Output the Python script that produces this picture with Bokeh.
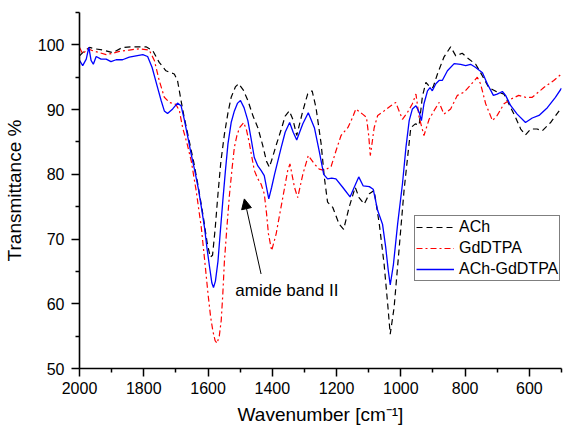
from bokeh.plotting import figure
from bokeh.models import Range1d, FixedTicker, Arrow, NormalHead, Label, Legend, LegendItem
from bokeh.embed import file_html
from bokeh.resources import INLINE

# ---- data ----
ach_x = [2000, 1984, 1969, 1953, 1928, 1897, 1866, 1835, 1793, 1772, 1752, 1731, 1705, 1695, 1684,
         1675, 1660, 1645, 1630, 1615, 1603, 1593, 1586, 1578, 1569, 1560, 1549, 1538, 1528, 1515,
         1505, 1490, 1476, 1460, 1445, 1430, 1418, 1409, 1400, 1388, 1373, 1360, 1347, 1336, 1324,
         1315, 1305, 1290, 1276, 1264, 1248, 1238, 1228, 1212, 1192, 1178, 1161, 1142, 1130, 1114,
         1098, 1083, 1067, 1052, 1041, 1033, 1021, 1005, 990, 979, 969, 955, 943, 933, 922, 910,
         900, 886, 866, 845, 829, 809, 793, 767, 746, 726, 700, 679, 664, 643, 627, 612, 596, 576,
         560, 534, 500]
ach_y = [98.3, 99.1, 99.6, 99.4, 99.2, 98.8, 99.6, 99.7, 99.7, 99.1, 97.3, 96.0, 95.5, 94.5, 91.4,
         89.0, 85.5, 82.0, 78.0, 73.5, 69.5, 67.2, 67.5, 71.5, 77.0, 82.0, 86.2, 89.5, 91.9, 93.5,
         94.0, 93.0, 91.4, 89.0, 87.2, 84.5, 82.0, 81.1, 82.5, 84.5, 86.8, 89.0, 89.8, 88.5, 86.0,
         87.8, 89.8, 92.4, 92.9, 90.3, 84.7, 79.5, 75.7, 74.9, 72.3, 71.5, 74.9, 78.0, 76.4, 75.4,
         77.0, 77.5, 72.3, 66.1, 60.0, 55.3, 59.4, 68.7, 77.5, 82.6, 87.2, 87.8, 87.6, 92.0, 94.2, 93.5,
         93.4, 95.5, 98.1, 99.7, 98.3, 98.7, 98.0, 97.0, 95.2, 93.4, 92.7, 92.4, 90.9, 88.8, 87.0, 86.1, 87.0, 87.0,
         86.7, 88.0, 90.3]

gd_x = [2000, 1990, 1974, 1959, 1938, 1917, 1897, 1876, 1845, 1814, 1783, 1767, 1752, 1736, 1720,
        1700, 1689, 1679, 1664, 1652, 1637, 1621, 1610, 1600, 1592, 1585, 1578, 1572, 1565, 1559,
        1554, 1549, 1541, 1533, 1525, 1518, 1510, 1502, 1489, 1480, 1471, 1463, 1456, 1445, 1435,
        1425, 1418, 1412, 1402, 1395, 1388, 1380, 1367, 1352, 1345, 1331, 1321, 1305, 1288, 1269,
        1254, 1238, 1217, 1202, 1186, 1165, 1150, 1140, 1119, 1107, 1100, 1095, 1089, 1083, 1072,
        1052, 1031, 1016, 995, 979, 964, 953, 943, 928, 912, 897, 881, 866, 845, 824, 803, 783,
        762, 752, 736, 715, 700, 679, 658, 633, 612, 591, 555, 524, 500]
gd_y = [99.6, 98.6, 99.4, 99.1, 98.8, 98.5, 98.7, 99.0, 99.2, 99.4, 99.2, 97.6, 94.5, 91.9, 91.1,
        90.8, 89.8, 87.2, 84.5, 82.0, 77.5, 71.8, 66.5, 61.5, 58.0, 55.8, 54.3, 53.9, 55.0, 57.4,
        61.5, 66.6, 72.0, 77.0, 81.0, 84.2, 86.0, 87.2, 88.0, 86.8, 84.7, 82.5, 80.6, 79.3, 78.5,
        77.0, 74.0, 70.8, 68.2, 69.5, 70.8, 73.0, 76.5, 80.6, 81.6, 78.0, 76.4, 80.0, 82.9, 81.6,
        80.8, 80.6, 81.2, 83.6, 86.0, 87.2, 88.8, 90.1, 89.3, 88.8, 86.0, 82.9, 85.0, 87.2, 89.1,
        89.8, 90.6, 91.1, 88.5, 89.6, 90.9, 92.4, 88.8, 86.0, 88.5, 89.8, 91.1, 89.3, 90.1, 92.2, 92.7, 93.8,
        95.0, 94.0, 90.9, 88.3, 89.1, 90.9, 91.6, 92.2, 91.9, 91.9, 93.4, 94.5, 95.5]

mix_x = [2000, 1990, 1979, 1971, 1964, 1957, 1948, 1933, 1917, 1902, 1886, 1866, 1845, 1824, 1803,
         1788, 1774, 1757, 1746, 1736, 1726, 1710, 1695, 1684, 1674, 1664, 1652, 1641, 1631, 1621,
         1611, 1603, 1595, 1588, 1583, 1577, 1569, 1562, 1554, 1546, 1538, 1528, 1518, 1508, 1499,
         1488, 1476, 1466, 1456, 1445, 1435, 1425, 1418, 1411, 1402, 1393, 1383, 1373, 1360, 1346,
         1335, 1324, 1315, 1305, 1288, 1269, 1254, 1240, 1228, 1215, 1202, 1181, 1158, 1145, 1131,
         1117, 1098, 1086, 1072, 1057, 1047, 1039, 1033, 1023, 1010, 995, 984, 974, 964, 953, 943,
         936, 928, 917, 909, 902, 891, 881, 871, 855, 834, 814, 798, 783, 767, 746, 731, 712, 700,
         684, 674, 658, 638, 612, 591, 570, 544, 519, 500]
mix_y = [97.6, 96.8, 97.8, 99.6, 97.6, 97.0, 98.2, 97.8, 97.8, 97.4, 97.7, 97.7, 98.1, 98.3, 98.5,
         98.2, 96.5, 93.4, 91.4, 89.8, 89.4, 90.1, 91.0, 90.6, 88.5, 86.0, 83.0, 80.5, 78.0, 75.0,
         71.8, 68.5, 65.6, 63.2, 62.5, 63.5, 66.6, 71.0, 75.9, 80.5, 84.7, 88.0, 89.8, 91.0, 91.4,
         90.3, 88.3, 85.5, 82.6, 81.3, 80.6, 79.8, 78.0, 76.2, 78.0, 80.0, 82.0, 84.0, 86.5, 88.0,
         86.5, 85.3, 86.5, 87.8, 89.5, 87.2, 83.6, 80.0, 79.3, 79.4, 79.3, 78.0, 76.5, 78.0, 79.6,
         78.2, 78.1, 77.7, 74.4, 72.3, 68.7, 65.1, 62.9, 66.1, 72.3, 78.5, 84.2, 88.3, 90.1, 90.6, 89.6,
         88.3, 90.9, 92.9, 93.4, 92.9, 94.0, 94.5, 94.5, 96.0, 97.1, 97.0, 96.8, 97.0, 96.5, 95.7, 94.0, 92.2, 92.4,
         92.8, 92.2, 90.6, 89.3, 88.0, 88.7, 89.1, 90.3, 91.9, 93.3]

series_names = ["ACh", "GdDTPA", "ACh-GdDTPA"]
x_major = [2000, 1800, 1600, 1400, 1200, 1000, 800, 600]
x_minor = [1900, 1700, 1500, 1300, 1100, 900, 700, 500]
y_major = [50, 60, 70, 80, 90, 100]
y_minor = [55, 65, 75, 85, 95, 105]

FONT = "Liberation Sans"

p = figure(width=569, height=429, x_range=Range1d(2000, 500), y_range=Range1d(50, 105),
           output_backend="svg", toolbar_location=None,
           min_border_left=78, min_border_right=8, min_border_top=12, min_border_bottom=61)
p.xgrid.visible = False
p.ygrid.visible = False
p.outline_line_color = None
p.background_fill_color = "white"
p.border_fill_color = "white"

p.xaxis.ticker = FixedTicker(ticks=x_major, minor_ticks=x_minor)
p.yaxis.ticker = FixedTicker(ticks=y_major, minor_ticks=y_minor)
for ax in (p.xaxis[0], p.yaxis[0]):
    ax.axis_line_width = 1.6
    ax.axis_line_color = "black"
    ax.major_tick_line_width = 1.5
    ax.minor_tick_line_width = 1.5
    ax.major_tick_line_color = "black"
    ax.minor_tick_line_color = "black"
    ax.major_tick_out = 8
    ax.major_tick_in = 0
    ax.minor_tick_out = 4
    ax.minor_tick_in = 0
    ax.major_label_text_font = FONT
    ax.major_label_text_font_size = "16px"
    ax.major_label_text_color = "black"
    ax.axis_label_text_font = FONT
    ax.axis_label_text_font_size = "19px"
    ax.axis_label_text_font_style = "normal"
    ax.axis_label_text_color = "black"

p.xaxis.major_label_standoff = 5
p.xaxis.axis_label_standoff = 7
p.yaxis.major_label_standoff = 7
p.yaxis.axis_label_standoff = 10

p.xaxis.axis_label = "Wavenumber [cm\u207b\u00b9]"
p.yaxis.axis_label = "Transmittance %"

r1 = p.line(ach_x, ach_y, line_color="black", line_width=1.2, line_dash="6 4")
r2 = p.line(gd_x, gd_y, line_color="#ff0000", line_width=1.2, line_dash="6 3 2 3")
r3 = p.line(mix_x, mix_y, line_color="#0000ff", line_width=1.3)

legend = Legend(items=[LegendItem(label=series_names[0], renderers=[r1]),
                       LegendItem(label=series_names[1], renderers=[r2]),
                       LegendItem(label=series_names[2], renderers=[r3])],
                location=(335, 87))
legend.border_line_color = "black"
legend.border_line_width = 1
legend.background_fill_alpha = 1
legend.label_text_font = FONT
legend.label_text_font_size = "16px"
legend.label_text_color = "black"
legend.glyph_width = 38
legend.glyph_height = 20
legend.label_height = 20
legend.spacing = 1
legend.padding = 1
legend.margin = 0
legend.label_standoff = 5
p.add_layout(legend)

p.add_layout(Arrow(end=NormalHead(size=10, fill_color="black", line_color="black"),
                   x_start=1435, y_start=64.6, x_end=1487, y_end=76.2,
                   line_color="black", line_width=1))
p.add_layout(Label(x=1515, y=62.1, text="amide band II", text_font=FONT,
                   text_font_size="17px", text_color="black", text_baseline="alphabetic"))

open("out.html", "w").write(file_html(p, INLINE))
